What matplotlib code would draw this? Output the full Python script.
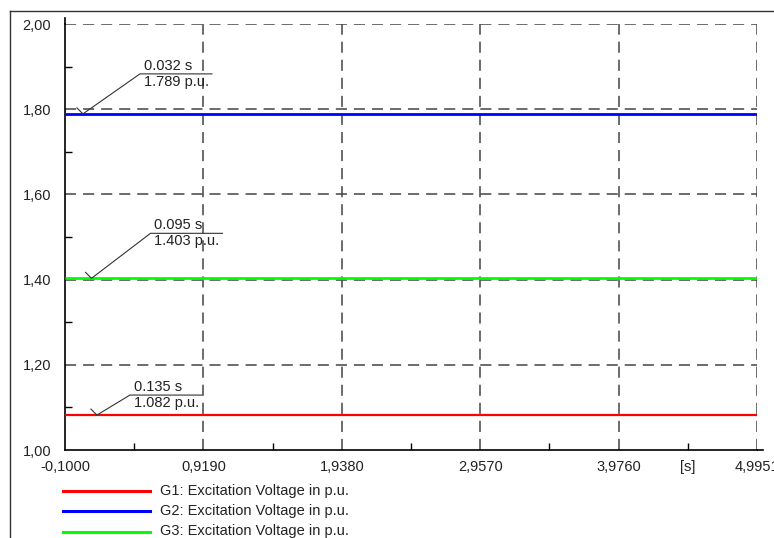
import matplotlib
matplotlib.use("Agg")
import matplotlib.pyplot as plt
import matplotlib.transforms as mtransforms
from matplotlib.lines import Line2D

plt.rcParams['font.family'] = ['Liberation Sans', 'DejaVu Sans']
plt.rcParams['lines.scale_dashes'] = False

# ---- data ----
time_s = [-0.1, 4.9951]
g1_vals = [1.082, 1.082]
g2_vals = [1.789, 1.789]
g3_vals = [1.403, 1.403]
series_labels = ["G1: Excitation Voltage in p.u.",
                 "G2: Excitation Voltage in p.u.",
                 "G3: Excitation Voltage in p.u."]
series_colors = ["#ff0000", "#0000ff", "#00ff00"]

x_ticks = [-0.1, 0.919, 1.938, 2.957, 3.976, 4.9951]
x_ticklabels = ["-0,1000", "0,9190", "1,9380", "2,9570", "3,9760", "4,9951"]
y_ticks = [1.0, 1.2, 1.4, 1.6, 1.8, 2.0]
y_ticklabels = ["1,00", "1,20", "1,40", "1,60", "1,80", "2,00"]

# annotations
ann_times = [0.135, 0.032, 0.095]
ann_values = [1.082, 1.789, 1.403]
ann_text_t = ["0.135 s", "0.032 s", "0.095 s"]
ann_text_v = ["1.082 p.u.", "1.789 p.u.", "1.403 p.u."]

W, H = 774, 538
fig = plt.figure(figsize=(W / 100, H / 100), dpi=100)
ax = fig.add_axes([65 / W, (H - 450) / H, (757 - 65) / W, (450 - 24) / H])
ax.set_xlim(x_ticks[0], x_ticks[-1])
ax.set_ylim(y_ticks[0], y_ticks[-1])

grid_kw = dict(color="#444444", lw=1.1, dashes=(8, 5))
for xt in x_ticks[1:]:
    ax.axvline(xt, **grid_kw, zorder=1)
for yt in y_ticks[1:]:
    ax.axhline(yt, **grid_kw, zorder=1)

vals = [g1_vals, g2_vals, g3_vals]
widths = [1.6, 2.0, 2.0]
for v, c, lw in zip(vals, series_colors, widths):
    ax.plot(time_s, v, color=c, lw=lw, solid_capstyle='butt', zorder=3)

for s in ["top", "right"]:
    ax.spines[s].set_visible(False)
for s in ["left", "bottom"]:
    ax.spines[s].set_color("black")
    ax.spines[s].set_linewidth(1.2)

# spine extensions
ax.add_line(Line2D([0, 0], [1, 1 + 6 / 426], transform=ax.transAxes,
                   color="black", lw=1.2, clip_on=False))
ax.add_line(Line2D([1, 1 + 6 / 692], [0, 0], transform=ax.transAxes,
                   color="black", lw=1.2, clip_on=False))

ax.set_xticks(x_ticks)
ax.set_xticklabels(x_ticklabels)
ax.set_yticks(y_ticks)
ax.set_yticklabels(y_ticklabels)
ax.set_xticks([(a + b) / 2 for a, b in zip(x_ticks[:-1], x_ticks[1:])], minor=True)
ax.set_yticks([(a + b) / 2 for a, b in zip(y_ticks[:-1], y_ticks[1:])], minor=True)
ax.tick_params(which='major', length=0, labelsize=10.5, labelcolor="#222222")
ax.tick_params(axis='x', which='major', pad=7)
ax.tick_params(axis='y', which='major', pad=10)
ax.tick_params(which='minor', direction='in', length=5, width=1, color="black")

# unit label
ax.text((x_ticks[-2] + x_ticks[-1]) / 2, -10, "[s]",
        transform=mtransforms.blended_transform_factory(
            ax.transData, mtransforms.IdentityTransform() + mtransforms.ScaledTranslation(0, 0, ax.transAxes)),
        ha='center', va='top', fontsize=10.5, color="#222222")

# annotations
knee_off = [(33, 20), (57, 40), (59, 45)]
for t, v, st, sv, (dx, dy) in zip(ann_times, ann_values, ann_text_t, ann_text_v, knee_off):
    tr = mtransforms.ScaledTranslation(t, v, ax.transData)
    ax.add_line(Line2D([-6, 0, dx, dx + 72], [6, 0, dy, dy], transform=tr,
                       color="#333333", lw=0.8, clip_on=False, zorder=4))
    ax.text(dx + 4, dy + 1, st, transform=tr, ha='left', va='bottom',
            fontsize=10.5, color="#222222", zorder=5)
    ax.text(dx + 4, dy - 1, sv, transform=tr, ha='left', va='top',
            fontsize=10.5, color="#222222", zorder=5)

# legend
leg_y = [490.5, 511, 531.5]
for y, c, lab in zip(leg_y, series_colors, series_labels):
    fig.add_artist(Line2D([63 / W, 150 / W], [1 - y / H, 1 - y / H],
                          color=c, lw=2.2, transform=fig.transFigure))
    fig.text(160 / W, 1 - y / H, lab, ha='left', va='center', fontsize=10.5,
             color="#222222")

# outer frame
fig.add_artist(Line2D([10 / W, 10 / W], [0, 1 - 11 / H], color="#333333", lw=1,
                      transform=fig.transFigure))
fig.add_artist(Line2D([10 / W, 1], [1 - 11 / H, 1 - 11 / H], color="#333333", lw=1,
                      transform=fig.transFigure))

fig.savefig("out.png", dpi=100)
